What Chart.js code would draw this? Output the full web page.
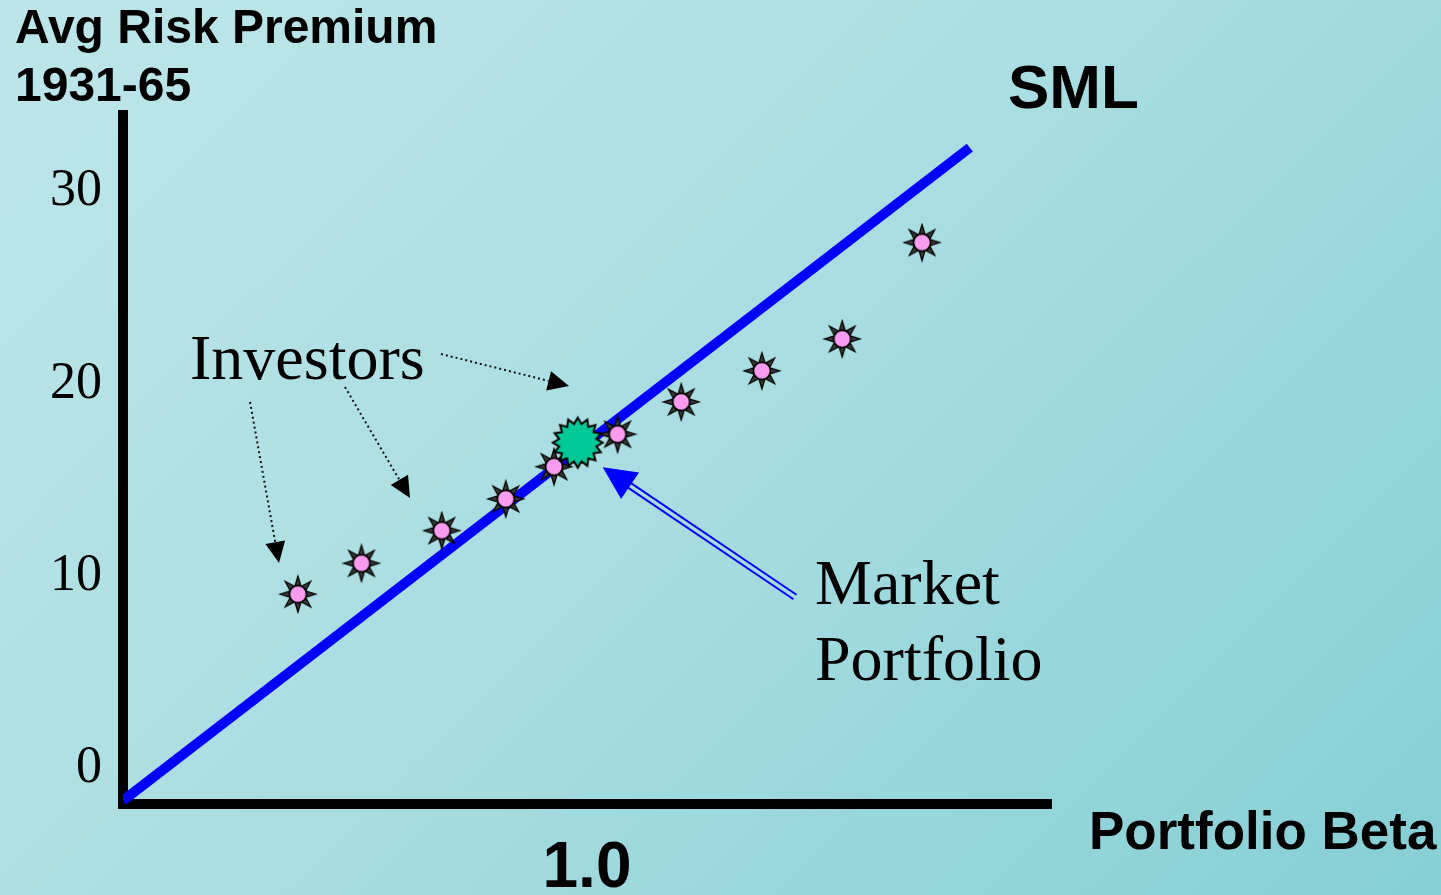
<!DOCTYPE html>
<html>
<head>
<meta charset="utf-8">
<script src="https://cdn.jsdelivr.net/npm/chart.js@4.4.1/dist/chart.umd.min.js"></script>
<style>
  html, body { margin:0; padding:0; width:1441px; height:895px; overflow:hidden; }
  body { background: linear-gradient(135deg, #BEE6EA 0%, #A8DDE1 50%, #85CFD5 100%); }
  #c { display:block; }
</style>
</head>
<body>
<canvas id="c" width="1441" height="895"></canvas>
<script>
// ---- data ----
const investorBeta    = [0.377, 0.514, 0.687, 0.825, 0.929, 1.066, 1.203, 1.377, 1.550, 1.722];
const investorPremium = [9.05, 10.66, 12.36, 14.01, 15.69, 17.38, 19.06, 20.68, 22.34, 27.36];
const marketBeta      = [0.98];
const marketPremium   = [16.94];
const smlBeta         = [0, 1.825];
const smlPremium      = [-1.7, 32.3];
const yTickValues     = [0, 10, 20, 30];
const xTickValues     = [1.0];

const toPts = (xs, ys) => xs.map((x, i) => ({ x: x, y: ys[i] }));

// ---- marker images ----
function sunMarker() {
  const c = document.createElement('canvas');
  c.width = 40; c.height = 40;
  const g = c.getContext('2d');
  g.translate(20, 20);
  for (let k = 0; k < 8; k++) {
    const a = k * Math.PI / 4;
    const ca = Math.cos(a), sa = Math.sin(a);
    const px = -sa, py = ca;
    const rb = 8.5, rt = 18, hw = 2.9;
    g.beginPath();
    g.moveTo(ca * rt, sa * rt);
    g.lineTo(ca * rb + px * hw, sa * rb + py * hw);
    g.lineTo(ca * rb - px * hw, sa * rb - py * hw);
    g.closePath();
    g.fillStyle = '#3a3a3a';
    g.fill();
    g.lineWidth = 1.3;
    g.strokeStyle = '#000';
    g.stroke();
  }
  g.beginPath();
  g.arc(0, 0, 8.5, 0, Math.PI * 2);
  g.fillStyle = '#F99CF0';
  g.fill();
  g.lineWidth = 1.6;
  g.strokeStyle = '#000';
  g.stroke();
  return c;
}
function starMarker() {
  const c = document.createElement('canvas');
  c.width = 56; c.height = 56;
  const g = c.getContext('2d');
  g.translate(28, 28);
  const n = 16, ro = 25, ri = 19;
  g.beginPath();
  for (let k = 0; k < n * 2; k++) {
    const r = k % 2 === 0 ? ro : ri;
    const a = -Math.PI / 2 + k * Math.PI / n;
    const x = Math.cos(a) * r, y = Math.sin(a) * r;
    if (k === 0) g.moveTo(x, y); else g.lineTo(x, y);
  }
  g.closePath();
  g.fillStyle = '#00C896';
  g.fill();
  g.lineWidth = 2;
  g.strokeStyle = '#000';
  g.lineJoin = 'miter';
  g.stroke();
  return c;
}

// ---- annotation plugin ----
function arrowHead(ctx, x1, y1, x2, y2, len, hw, color) {
  const dx = x2 - x1, dy = y2 - y1, L = Math.hypot(dx, dy);
  const ux = dx / L, uy = dy / L, px = -uy, py = ux;
  const bx = x2 - ux * len, by = y2 - uy * len;
  ctx.beginPath();
  ctx.moveTo(x2, y2);
  ctx.lineTo(bx + px * hw, by + py * hw);
  ctx.lineTo(bx - px * hw, by - py * hw);
  ctx.closePath();
  ctx.fillStyle = color;
  ctx.fill();
  return { bx, by, ux, uy, px, py };
}
function dottedArrow(ctx, x1, y1, x2, y2) {
  const h = arrowHead(ctx, x1, y1, x2, y2, 21, 10, '#000');
  ctx.save();
  ctx.setLineDash([2, 3]);
  ctx.lineWidth = 2;
  ctx.strokeStyle = '#111';
  ctx.beginPath();
  ctx.moveTo(x1, y1);
  ctx.lineTo(h.bx, h.by);
  ctx.stroke();
  ctx.restore();
}

const annotations = {
  id: 'annotations',
  afterDraw(chart) {
    const ctx = chart.ctx;
    ctx.save();
    ctx.fillStyle = '#000';
    ctx.textAlign = 'left';
    ctx.textBaseline = 'alphabetic';
    ctx.font = 'bold 48px "Liberation Sans", Arial, sans-serif';
    ctx.fillText('Avg Risk Premium', 15, 43);
    ctx.fillText('1931-65', 15, 101);
    ctx.font = 'bold 62px "Liberation Sans", Arial, sans-serif';
    ctx.fillText('SML', 1008, 108);
    ctx.font = 'bold 53px "Liberation Sans", Arial, sans-serif';
    ctx.fillText('Portfolio Beta', 1089, 849);
    ctx.font = '64px "Liberation Serif", "Times New Roman", serif';
    ctx.fillText('Investors', 190, 379);
    ctx.fillText('Market', 815, 604);
    ctx.fillText('Portfolio', 815, 680);

    // dotted arrows from "Investors"
    dottedArrow(ctx, 441, 354, 569, 386);
    dottedArrow(ctx, 345, 387, 410, 498);
    dottedArrow(ctx, 250, 402, 279, 563);

    // blue double-line arrow to market portfolio
    const tipX = 602.7, tipY = 467.3, tailX = 795, tailY = 597;
    const h = arrowHead(ctx, tailX, tailY, tipX, tipY, 33, 16, '#0000FF');
    ctx.strokeStyle = '#0000FF';
    ctx.lineWidth = 2;
    for (const s of [-2.7, 2.7]) {
      ctx.beginPath();
      ctx.moveTo(tailX + h.px * s, tailY + h.py * s);
      ctx.lineTo(h.bx + h.ux * 2 + h.px * s, h.by + h.uy * 2 + h.py * s);
      ctx.stroke();
    }
    ctx.restore();
  }
};

const chart = new Chart(document.getElementById('c'), {
  type: 'scatter',
  data: {
    datasets: [
      {
        type: 'line',
        label: 'SML',
        data: toPts(smlBeta, smlPremium),
        borderColor: '#0000FF',
        borderWidth: 10,
        pointRadius: 0,
        fill: false,
        tension: 0,
        order: 3
      },
      {
        label: 'Investors',
        data: toPts(investorBeta, investorPremium),
        pointStyle: sunMarker(),
        pointRadius: 12,
        order: 2
      },
      {
        label: 'Market Portfolio',
        data: toPts(marketBeta, marketPremium),
        pointStyle: starMarker(),
        pointRadius: 20,
        order: 1
      }
    ]
  },
  options: {
    responsive: false,
    devicePixelRatio: 1,
    animation: false,
    layout: { padding: { left: 0, top: 115, right: 390, bottom: 0 } },
    plugins: { legend: { display: false }, tooltip: { enabled: false } },
    scales: {
      x: {
        type: 'linear',
        min: 0,
        max: 2,
        afterBuildTicks: s => { s.ticks = xTickValues.map(v => ({ value: v })); },
        afterFit: s => { s.height = 91; s.paddingLeft = 0; s.paddingRight = 0; },
        grid: { display: false, drawTicks: false },
        border: { display: true, color: '#000', width: 10 },
        ticks: {
          autoSkip: false,
          maxRotation: 0,
          padding: 27,
          color: '#000',
          font: { family: '"Liberation Sans", Arial, sans-serif', size: 64, weight: 'bold' },
          callback: v => Number(v).toFixed(1)
        }
      },
      y: {
        type: 'linear',
        min: -1.875,
        max: 34,
        afterBuildTicks: s => { s.ticks = yTickValues.map(v => ({ value: v })); },
        afterFit: s => { s.width = 123; s.paddingTop = 0; s.paddingBottom = 0; },
        grid: { display: false, drawTicks: false },
        border: { display: true, color: '#000', width: 10 },
        ticks: {
          padding: 21,
          color: '#000',
          font: { family: '"Liberation Serif", "Times New Roman", serif', size: 52 },
          callback: v => String(v)
        }
      }
    }
  },
  plugins: [annotations]
});
</script>
</body>
</html>
